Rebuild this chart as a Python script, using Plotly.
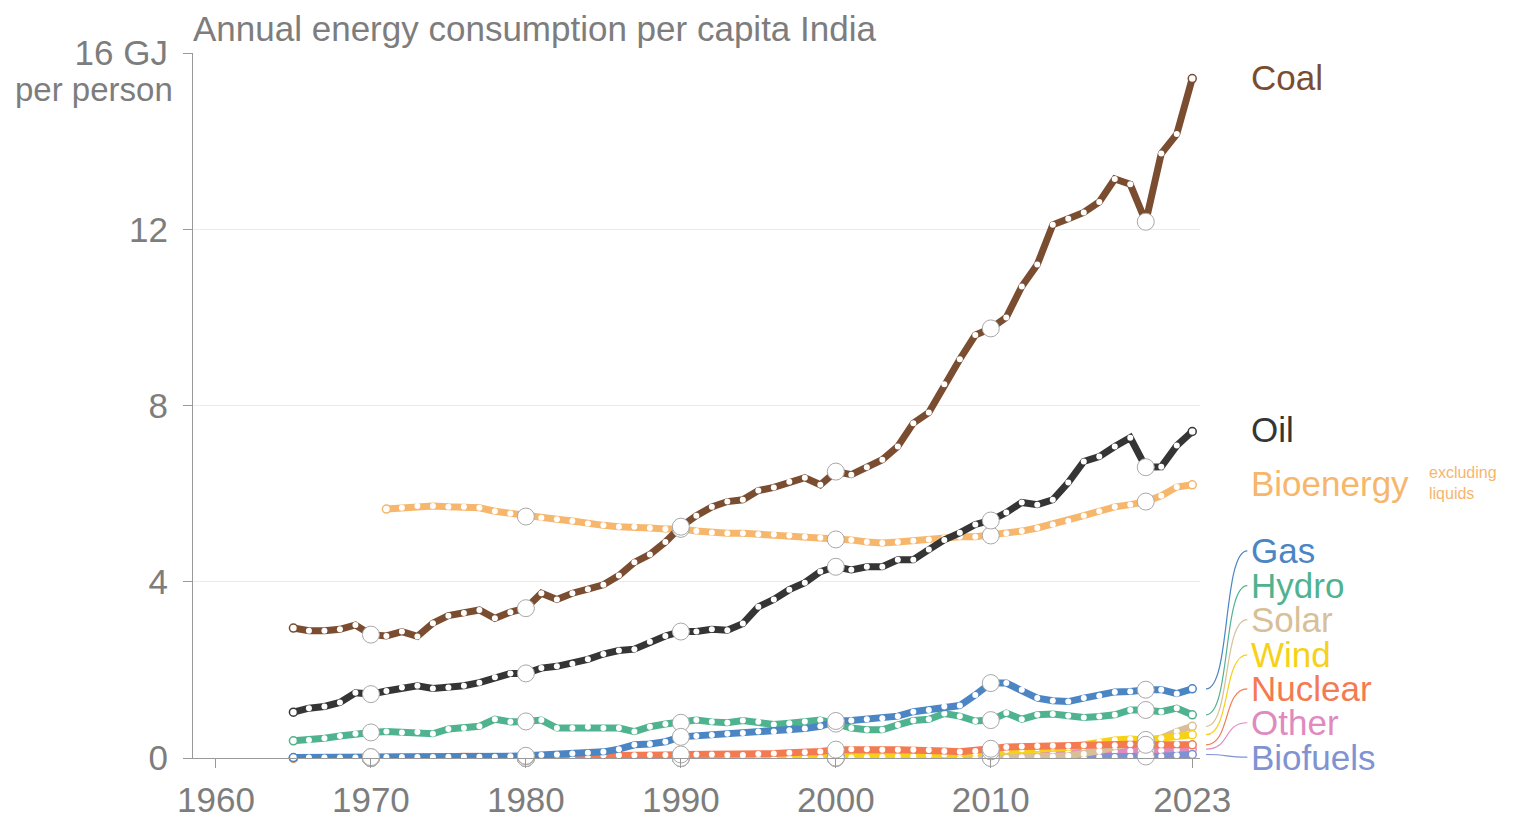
import plotly.graph_objects as go

years = list(range(1965, 2024))
bio_years = list(range(1971, 2024))

coal = [2.95, 2.89, 2.89, 2.92, 3.02, 2.80, 2.77, 2.87, 2.76, 3.06,
        3.23, 3.29, 3.36, 3.17, 3.31, 3.40, 3.74, 3.60, 3.74, 3.83,
        3.93, 4.14, 4.44, 4.62, 4.90, 5.25, 5.50, 5.70, 5.82, 5.86,
        6.07, 6.14, 6.27, 6.36, 6.20, 6.50, 6.43, 6.60, 6.77, 7.07,
        7.60, 7.84, 8.48, 9.05, 9.60, 9.75, 10.00, 10.70, 11.20, 12.10,
        12.24, 12.38, 12.62, 13.14, 13.02, 12.17, 13.72, 14.16, 15.42]

oil = [1.04, 1.13, 1.17, 1.26, 1.48, 1.45, 1.52, 1.60, 1.64, 1.58,
       1.60, 1.64, 1.71, 1.83, 1.92, 1.92, 2.04, 2.08, 2.14, 2.24,
       2.36, 2.44, 2.47, 2.64, 2.77, 2.87, 2.87, 2.92, 2.90, 3.05,
       3.43, 3.60, 3.82, 3.98, 4.23, 4.34, 4.27, 4.34, 4.34, 4.50,
       4.50, 4.73, 4.95, 5.11, 5.30, 5.39, 5.57, 5.80, 5.75, 5.86,
       6.25, 6.73, 6.84, 7.07, 7.27, 6.60, 6.61, 7.09, 7.41]

bioenergy = [5.65, 5.68, 5.72, 5.72, 5.70, 5.70, 5.68, 5.60, 5.55, 5.48,
             5.45, 5.42, 5.38, 5.32, 5.28, 5.25, 5.25, 5.22, 5.20, 5.20,
             5.15, 5.12, 5.10, 5.10, 5.08, 5.07, 5.05, 5.02, 5.00, 4.96,
             4.95, 4.90, 4.88, 4.90, 4.93, 4.96, 5.00, 5.02, 5.02, 5.05,
             5.10, 5.15, 5.22, 5.30, 5.38, 5.50, 5.60, 5.70, 5.75, 5.82,
             5.95, 6.15, 6.20]

gas = [0.01, 0.01, 0.01, 0.01, 0.01, 0.02, 0.02, 0.02, 0.02, 0.02,
       0.03, 0.03, 0.03, 0.03, 0.04, 0.05, 0.07, 0.08, 0.10, 0.12,
       0.14, 0.20, 0.30, 0.32, 0.37, 0.48, 0.50, 0.52, 0.55, 0.57,
       0.60, 0.60, 0.63, 0.67, 0.72, 0.84, 0.85, 0.88, 0.90, 0.95,
       1.05, 1.09, 1.17, 1.19, 1.43, 1.70, 1.70, 1.55, 1.36, 1.30,
       1.28, 1.36, 1.41, 1.50, 1.51, 1.55, 1.55, 1.46, 1.57]

hydro = [0.39, 0.41, 0.45, 0.50, 0.55, 0.58, 0.60, 0.58, 0.59, 0.55,
         0.66, 0.68, 0.72, 0.88, 0.82, 0.83, 0.86, 0.68, 0.68, 0.71,
         0.68, 0.68, 0.60, 0.71, 0.77, 0.80, 0.86, 0.82, 0.80, 0.85,
         0.82, 0.76, 0.79, 0.83, 0.86, 0.78, 0.68, 0.64, 0.64, 0.75,
         0.85, 0.88, 1.01, 0.95, 0.84, 0.86, 1.02, 0.88, 0.98, 1.00,
         0.96, 0.92, 0.94, 0.98, 1.09, 1.09, 1.05, 1.13, 0.98]

solar = [0.0, 0.0, 0.0, 0.0, 0.0, 0.0, 0.0, 0.0, 0.0, 0.0,
         0.0, 0.0, 0.0, 0.0, 0.0, 0.0, 0.0, 0.0, 0.0, 0.0,
         0.0, 0.0, 0.0, 0.0, 0.0, 0.0, 0.0, 0.0, 0.0, 0.0,
         0.0, 0.0, 0.0, 0.0, 0.0, 0.0, 0.0, 0.0, 0.0, 0.0,
         0.0, 0.0, 0.0, 0.0, 0.0, 0.001, 0.005, 0.015, 0.025, 0.035,
         0.05, 0.09, 0.16, 0.26, 0.32, 0.37, 0.45, 0.60, 0.72]

wind = [0.0, 0.0, 0.0, 0.0, 0.0, 0.0, 0.0, 0.0, 0.0, 0.0,
        0.0, 0.0, 0.0, 0.0, 0.0, 0.0, 0.0, 0.0, 0.0, 0.0,
        0.0, 0.0, 0.0, 0.0, 0.0, 0.0, 0.0, 0.0, 0.0, 0.0,
        0.003, 0.005, 0.005, 0.006, 0.008, 0.01, 0.012, 0.015, 0.02, 0.03,
        0.04, 0.06, 0.08, 0.09, 0.11, 0.15, 0.18, 0.20, 0.22, 0.24,
        0.24, 0.30, 0.37, 0.41, 0.43, 0.41, 0.45, 0.50, 0.53]

nuclear = [0.0, 0.0, 0.0, 0.0, 0.01, 0.02, 0.03, 0.03, 0.03, 0.03,
           0.03, 0.04, 0.03, 0.03, 0.03, 0.04, 0.04, 0.04, 0.04, 0.05,
           0.06, 0.06, 0.06, 0.07, 0.07, 0.08, 0.08, 0.08, 0.07, 0.07,
           0.09, 0.10, 0.12, 0.13, 0.15, 0.19, 0.20, 0.20, 0.19, 0.19,
           0.19, 0.18, 0.16, 0.14, 0.16, 0.21, 0.25, 0.26, 0.27, 0.28,
           0.28, 0.29, 0.28, 0.29, 0.31, 0.30, 0.30, 0.31, 0.30]

other = [0.0, 0.0, 0.0, 0.0, 0.0, 0.0, 0.0, 0.0, 0.0, 0.0,
         0.0, 0.0, 0.0, 0.0, 0.0, 0.0, 0.0, 0.0, 0.0, 0.0,
         0.0, 0.0, 0.0, 0.0, 0.0, 0.0, 0.0, 0.0, 0.0, 0.0,
         0.005, 0.01, 0.015, 0.02, 0.025, 0.03, 0.035, 0.04, 0.045, 0.05,
         0.055, 0.06, 0.065, 0.07, 0.07, 0.08, 0.09, 0.10, 0.11, 0.12,
         0.13, 0.14, 0.15, 0.15, 0.16, 0.16, 0.17, 0.19, 0.20]

biofuels = [0.0, 0.0, 0.0, 0.0, 0.0, 0.0, 0.0, 0.0, 0.0, 0.0,
            0.0, 0.0, 0.0, 0.0, 0.0, 0.0, 0.0, 0.0, 0.0, 0.0,
            0.0, 0.0, 0.0, 0.0, 0.0, 0.0, 0.0, 0.0, 0.0, 0.0,
            0.0, 0.0, 0.0, 0.0, 0.0, 0.0, 0.003, 0.004, 0.005, 0.006,
            0.007, 0.008, 0.009, 0.01, 0.01, 0.01, 0.012, 0.013, 0.014, 0.015,
            0.016, 0.018, 0.02, 0.025, 0.03, 0.035, 0.04, 0.06, 0.08]

highlight_years = [1970, 1980, 1990, 2000, 2010, 2020]
x_tick_vals = [1960, 1970, 1980, 1990, 2000, 2010, 2023]
y_tick_vals = [0, 4, 8, 12, 16]
y_tick_text = ["0", "4", "8", "12", "16 GJ"]

# name, x, y, color, label y (data units), connector?
series = [
    ("Other", years, other, "#e08ac0", 0.80, True),
    ("Biofuels", years, biofuels, "#7f92d2", 0.02, True),
    ("Solar", years, solar, "#d9bf98", 3.14, True),
    ("Wind", years, wind, "#f7d117", 2.34, True),
    ("Nuclear", years, nuclear, "#f47a52", 1.57, True),
    ("Hydro", years, hydro, "#4fb38f", 3.91, True),
    ("Gas", years, gas, "#4b85c4", 4.70, True),
    ("Bioenergy", bio_years, bioenergy, "#f6b66c", 6.23, False),
    ("Oil", years, oil, "#353535", 7.45, False),
    ("Coal", years, coal, "#7a4d31", 15.45, False),
]

GRAY = "#7d7d7d"
FONT = "Liberation Sans, Arial, sans-serif"
FS = 35

fig = go.Figure()

for name, xs, ys, color, _, _ in series:
    fig.add_trace(go.Scatter(
        x=xs, y=ys, mode="lines+markers", name=name,
        line=dict(color=color, width=7),
        marker=dict(size=6, color="white", line=dict(width=0)),
        cliponaxis=False, showlegend=False, hoverinfo="skip"))
    # end caps
    fig.add_trace(go.Scatter(
        x=[xs[0], xs[-1]], y=[ys[0], ys[-1]], mode="markers",
        marker=dict(size=8, color="white", line=dict(width=1.5, color=color)),
        cliponaxis=False, showlegend=False, hoverinfo="skip"))

for name, xs, ys, color, _, _ in series:
    hx = [x for x in xs if x in highlight_years]
    hy = [y for x, y in zip(xs, ys) if x in highlight_years]
    fig.add_trace(go.Scatter(
        x=hx, y=hy, mode="markers",
        marker=dict(size=17, color="white", line=dict(width=1, color="#a8a8a8")),
        cliponaxis=False, showlegend=False, hoverinfo="skip"))

label_x = 1.049
conn_x0 = 1.006
conn_x1 = 1.047
for name, xs, ys, color, ly, conn in series:
    fig.add_annotation(x=label_x, y=ly, xref="paper", yref="y", text=name,
                       showarrow=False, xanchor="left", yanchor="middle",
                       font=dict(family=FONT, size=FS, color=color))
    if conn:
        y0 = ys[-1]
        dx = conn_x1 - conn_x0
        path = (f"M {conn_x0},{y0} C {conn_x0 + dx * 0.6},{y0} "
                f"{conn_x0 + dx * 0.4},{ly} {conn_x1},{ly}")
        fig.add_shape(type="path", path=path, xref="paper", yref="y",
                      line=dict(color=color, width=1.2))

fig.add_annotation(x=1.225, y=6.23, xref="paper", yref="y",
                   text="excluding<br>liquids", showarrow=False,
                   xanchor="left", yanchor="middle", align="left",
                   font=dict(family=FONT, size=16, color="#f6b66c"))

fig.add_annotation(x=0, y=1, xref="paper", yref="paper",
                   text="Annual energy consumption per capita India",
                   showarrow=False, xanchor="left", yanchor="middle",
                   yshift=25, xshift=-2,
                   font=dict(family=FONT, size=FS, color=GRAY))

fig.add_annotation(x=0, y=16, xref="paper", yref="y", text="per person",
                   showarrow=False, xanchor="right", yanchor="middle",
                   xshift=-18, yshift=-36,
                   font=dict(family=FONT, size=33, color=GRAY))

fig.update_layout(
    width=1530, height=822,
    margin=dict(l=185, r=338, t=45, b=72, autoexpand=False),
    plot_bgcolor="white", paper_bgcolor="white",
    font=dict(family=FONT, size=FS, color=GRAY),
    xaxis=dict(range=[1958.52, 2023.5], tickvals=x_tick_vals,
               ticks="outside", ticklen=9, tickcolor="#999", tickwidth=1,
               showline=True, linecolor="#999", linewidth=1,
               showgrid=False, zeroline=False, automargin=False,
               ticklabelstandoff=2,
               tickfont=dict(family=FONT, size=FS, color=GRAY)),
    yaxis=dict(range=[0, 16], tickvals=y_tick_vals, ticktext=y_tick_text,
               ticks="outside", ticklen=9, tickcolor="#999", tickwidth=1,
               showline=True, linecolor="#999", linewidth=1,
               showgrid=True, gridcolor="#ececec", gridwidth=1,
               zeroline=False, ticklabelstandoff=8, automargin=False,
               tickfont=dict(family=FONT, size=FS, color=GRAY)),
)

fig.write_html("out.html")
